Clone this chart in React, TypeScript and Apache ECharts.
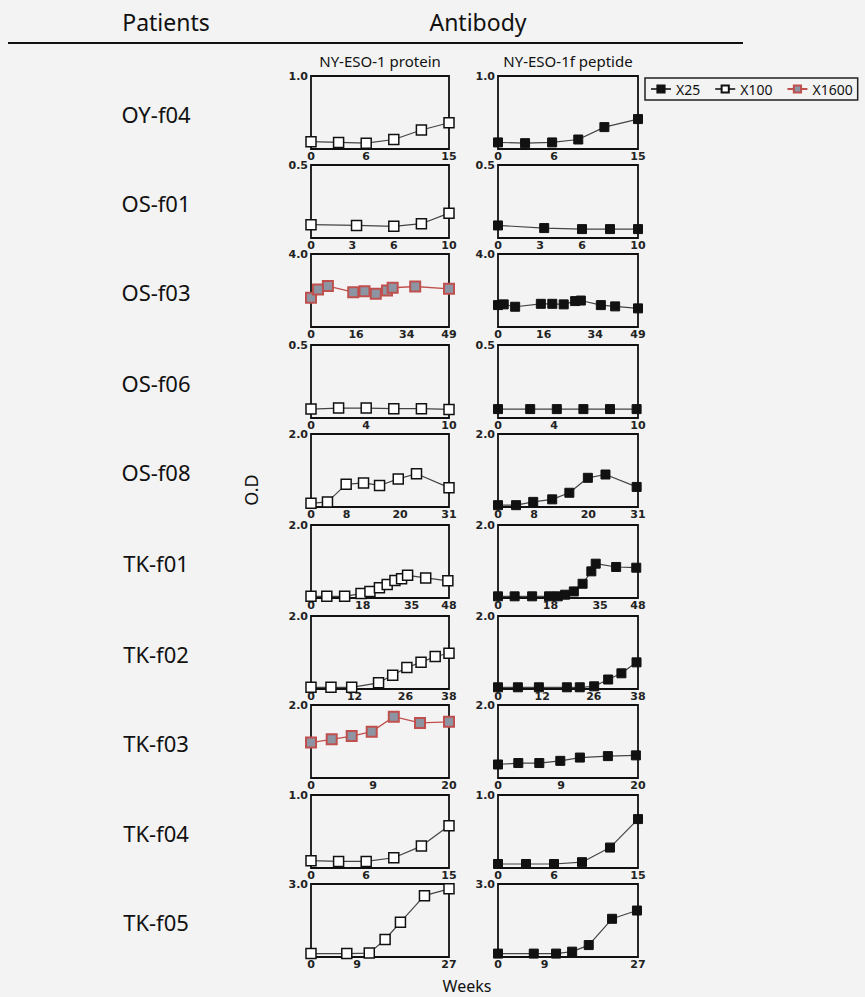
import React, { useEffect, useRef } from "react";
import * as echarts from "echarts";

// ---- data ----
const patients = ["OY-f04", "OS-f01", "OS-f03", "OS-f06", "OS-f08", "TK-f01", "TK-f02", "TK-f03", "TK-f04", "TK-f05"];
const yMax = [1.0, 0.5, 4.0, 0.5, 2.0, 2.0, 2.0, 2.0, 1.0, 3.0];
const xMax = [15, 10, 49, 10, 31, 48, 38, 20, 15, 27];
const xTicks = [
  [0, 6, 15],
  [0, 3, 6, 10],
  [0, 16, 34, 49],
  [0, 4, 10],
  [0, 8, 20, 31],
  [0, 18, 35, 48],
  [0, 12, 26, 38],
  [0, 9, 20],
  [0, 6, 15],
  [0, 9, 27],
];
const columnTitles = ["NY-ESO-1 protein", "NY-ESO-1f peptide"];
const dilutions = ["X25", "X100", "X1600"];

// NY-ESO-1 protein (serum dilution per patient)
const proteinDilution = ["X100", "X100", "X1600", "X100", "X100", "X100", "X100", "X1600", "X100", "X100"];
const proteinWeeks = [
  [0, 3, 6, 9, 12, 15],
  [0, 3.3, 6, 8, 10],
  [0, 2.5, 6, 15, 19, 23, 27, 29, 37, 49],
  [0, 2, 4, 6, 8, 10],
  [0, 3.7, 7.9, 11.8, 15.4, 19.6, 23.7, 31],
  [0, 5.5, 11.7, 17.4, 20.5, 23.8, 26.5, 29.2, 31.5, 33.6, 39.9, 47.6],
  [0, 5.5, 11.2, 18.6, 22.5, 26.4, 30.3, 34.2, 38],
  [0, 3, 5.9, 8.8, 12, 15.8, 20],
  [0, 3, 6, 9, 12, 15],
  [0, 7, 11.4, 14.5, 17.5, 22.2, 27],
];
const proteinOD = [
  [0.1, 0.09, 0.08, 0.13, 0.26, 0.36],
  [0.091, 0.086, 0.08, 0.098, 0.17],
  [1.6, 2.05, 2.24, 1.91, 1.96, 1.82, 2.0, 2.15, 2.22, 2.09],
  [0.061, 0.068, 0.068, 0.064, 0.064, 0.059],
  [0.1, 0.14, 0.62, 0.66, 0.59, 0.77, 0.91, 0.53],
  [0.046, 0.046, 0.046, 0.12, 0.18, 0.28, 0.37, 0.48, 0.53, 0.62, 0.55, 0.47],
  [0.047, 0.047, 0.047, 0.17, 0.38, 0.59, 0.73, 0.89, 0.98],
  [0.97, 1.06, 1.15, 1.27, 1.68, 1.51, 1.54],
  [0.1, 0.09, 0.09, 0.14, 0.3, 0.58],
  [0.14, 0.14, 0.16, 0.72, 1.43, 2.52, 2.8],
];

// NY-ESO-1f peptide (all X25)
const peptideDilution = ["X25", "X25", "X25", "X25", "X25", "X25", "X25", "X25", "X25", "X25"];
const peptideWeeks = [
  [0, 2.9, 5.8, 8.6, 11.4, 15],
  [0, 3.3, 6, 8, 10],
  [0, 2, 6, 15, 19, 23, 27, 29, 36, 41, 49],
  [0, 2.3, 4.2, 6.1, 8, 9.9],
  [0, 4, 7.8, 12, 15.8, 19.9, 23.8, 30.7],
  [0, 5.7, 11.7, 17.5, 20.5, 23, 26, 29, 32, 33.5, 40.5, 47.4],
  [0, 5.4, 11.1, 18.7, 22.2, 26.1, 29.9, 33.5, 37.6],
  [0, 2.9, 5.9, 8.9, 11.7, 15.7, 19.7],
  [0, 3, 6, 9, 12, 15],
  [0, 6.9, 11.2, 14.3, 17.5, 22, 26.8],
];
const peptideOD = [
  [0.09, 0.08, 0.09, 0.13, 0.3, 0.41],
  [0.086, 0.068, 0.061, 0.061, 0.061],
  [1.2, 1.24, 1.11, 1.27, 1.27, 1.24, 1.42, 1.45, 1.2, 1.13, 1.02],
  [0.061, 0.061, 0.061, 0.061, 0.061, 0.061],
  [0.05, 0.05, 0.14, 0.21, 0.39, 0.8, 0.89, 0.55],
  [0.046, 0.046, 0.046, 0.046, 0.046, 0.09, 0.18, 0.39, 0.73, 0.94, 0.85, 0.83],
  [0.047, 0.047, 0.047, 0.047, 0.047, 0.074, 0.26, 0.43, 0.73],
  [0.37, 0.41, 0.41, 0.47, 0.56, 0.6, 0.62],
  [0.055, 0.055, 0.055, 0.08, 0.28, 0.67],
  [0.14, 0.14, 0.14, 0.22, 0.49, 1.57, 1.91],
];

// ---- layout ----
const rowTops = [76, 165, 254, 345, 434, 525, 616, 705, 795, 884];
const panelH = 73;
const colLeft = [311, 498];
const colW = [138, 140];

const FONT = "'Noto Sans', 'Open Sans', sans-serif";
const TICKFONT = "'DejaVu Sans', sans-serif";

const seriesStyle: Record<string, any> = {
  X25: {
    symbolSize: 9,
    itemStyle: { color: "#111", borderColor: "#111", borderWidth: 1 },
    lineStyle: { color: "#444", width: 1.2 },
  },
  X100: {
    symbolSize: 10,
    itemStyle: { color: "#ffffff", borderColor: "#111", borderWidth: 1.5 },
    lineStyle: { color: "#444", width: 1.2 },
  },
  X1600: {
    symbolSize: 10,
    itemStyle: { color: "#8d95a3", borderColor: "#c0504d", borderWidth: 2 },
    lineStyle: { color: "#c0504d", width: 1.3 },
  },
};

const centered = { textAlign: "center", textVerticalAlign: "middle", align: "center", verticalAlign: "middle" };

export default function App() {
  const ref = useRef<HTMLDivElement>(null);
  useEffect(() => {
    if (!ref.current) return;
    const chart = echarts.init(ref.current, undefined, { renderer: "svg" });

    const grids: any[] = [];
    const xAxes: any[] = [];
    const yAxes: any[] = [];
    const series: any[] = [];
    const graphics: any[] = [];

    patients.forEach((p, r) => {
      [0, 1].forEach((c) => {
        const gi = r * 2 + c;
        grids.push({
          left: colLeft[c],
          top: rowTops[r],
          width: colW[c],
          height: panelH,
          show: true,
          borderColor: "#111",
          borderWidth: 1.8,
          backgroundColor: "transparent",
          containLabel: false,
        });
        xAxes.push({
          type: "value",
          gridIndex: gi,
          min: 0,
          max: xMax[r],
          axisLine: { show: false },
          axisTick: { show: false },
          splitLine: { show: false },
          axisLabel: {
            customValues: xTicks[r],
            fontSize: 11,
            fontWeight: "bold",
            color: "#222",
            fontFamily: TICKFONT,
            margin: 2,
            hideOverlap: false,
          },
        });
        yAxes.push({
          type: "value",
          gridIndex: gi,
          min: 0,
          max: yMax[r],
          axisLine: { show: false },
          axisTick: { show: false },
          splitLine: { show: false },
          axisLabel: {
            customValues: [yMax[r]],
            formatter: (v: number) => v.toFixed(1),
            fontSize: 11,
            fontWeight: "bold",
            color: "#222",
            fontFamily: TICKFONT,
            margin: 3,
          },
        });
        const weeks = c === 0 ? proteinWeeks[r] : peptideWeeks[r];
        const od = c === 0 ? proteinOD[r] : peptideOD[r];
        const dil = c === 0 ? proteinDilution[r] : peptideDilution[r];
        const st = seriesStyle[dil];
        series.push({
          type: "line",
          name: dil,
          xAxisIndex: gi,
          yAxisIndex: gi,
          data: weeks.map((w, i) => [w, od[i]]),
          symbol: "rect",
          symbolSize: st.symbolSize,
          itemStyle: st.itemStyle,
          lineStyle: st.lineStyle,
          clip: false,
          z: 3,
        });
      });
      graphics.push({
        type: "text",
        x: 156,
        y: rowTops[r] + 38,
        style: { text: p, fontSize: 22, fontFamily: FONT, fill: "#111", ...centered },
      });
    });

    graphics.push(
      {
        type: "text",
        x: 166,
        y: 22,
        style: { text: "Patients", fontSize: 23, fontFamily: FONT, fill: "#111", ...centered },
      },
      {
        type: "text",
        x: 478,
        y: 22,
        style: { text: "Antibody", fontSize: 23, fontFamily: FONT, fill: "#111", ...centered },
      },
      {
        type: "line",
        shape: { x1: 8, y1: 43, x2: 743, y2: 43 },
        style: { stroke: "#111", lineWidth: 2 },
      },
      {
        type: "text",
        x: colLeft[0] + colW[0] / 2,
        y: 61,
        style: { text: columnTitles[0], fontSize: 15, fontFamily: FONT, fill: "#111", ...centered },
      },
      {
        type: "text",
        x: colLeft[1] + colW[1] / 2,
        y: 61,
        style: { text: columnTitles[1], fontSize: 15, fontFamily: FONT, fill: "#111", ...centered },
      },
      {
        type: "text",
        x: 251,
        y: 490,
        rotation: Math.PI / 2,
        style: { text: "O.D", fontSize: 18, fontFamily: FONT, fill: "#111", ...centered },
      },
      {
        type: "text",
        x: 467,
        y: 986,
        style: { text: "Weeks", fontSize: 16, fontFamily: FONT, fill: "#111", ...centered },
      }
    );

    chart.setOption({
      animation: false,
      backgroundColor: "#f3f3f3",
      legend: {
        data: dilutions,
        left: 645,
        top: 78,
        orient: "horizontal",
        selectedMode: false,
        itemWidth: 20,
        itemHeight: 9,
        itemGap: 14,
        padding: [4, 5],
        borderColor: "#222",
        borderWidth: 1.5,
        textStyle: { fontSize: 14, fontFamily: FONT, color: "#111" },
      },
      grid: grids,
      xAxis: xAxes,
      yAxis: yAxes,
      series,
      graphic: { elements: graphics },
    });
    return () => chart.dispose();
  }, []);
  return (
    <div
      ref={ref}
      style={{ position: "fixed", left: 0, top: 0, width: 865, height: 997 }}
    />
  );
}
